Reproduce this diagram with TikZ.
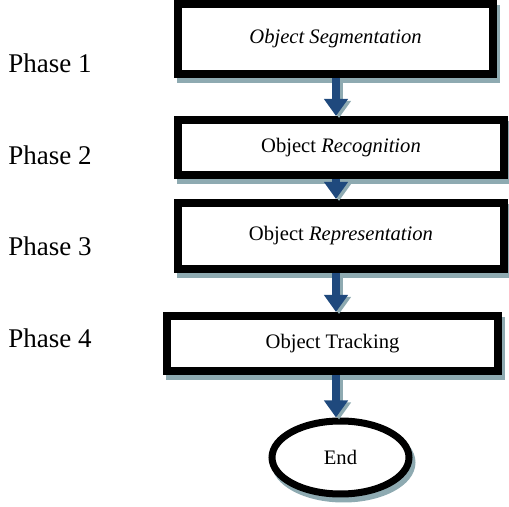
\documentclass[tikz,border=0pt]{standalone}
\usepackage{fontspec}
\setmainfont{Liberation Serif}
\usetikzlibrary{arrows.meta, shapes, calc, positioning, shadows}
\definecolor{flowblue}{RGB}{31,73,125}
\definecolor{shadowteal}{RGB}{142,170,177}
\tikzset {
    stage/.style args = {#1x#2}{
        draw,
        shape = rectangle,
        line width = 4pt,
        fill = white,
        minimum width = #1,
        minimum height = #2,
        font = \fontsize{10.3}{12}\selectfont, % Box text size
        drop shadow = {shadow xshift=1.5pt, shadow yshift=-2.5pt,
            opacity=1, fill=shadowteal, draw=shadowteal}
    },
    terminal/.style = {
        draw,
        shape = ellipse,
        line width = 3.5pt,
        fill = white,
        minimum width = 68.5pt,
        minimum height = 36.5pt,
        font = \fontsize{10.3}{12}\selectfont,
        drop shadow = {shadow xshift=1.5pt, shadow yshift=-2.5pt,
            opacity=1, fill=shadowteal, draw=shadowteal}
    },
    phase/.style = {
        anchor = base west,
        inner sep = 0pt,
        font = \fontsize{13.5}{16}\selectfont
    },
    flow/.style = {
        draw = flowblue,
        line width = 4pt,
        -{Triangle[width=11.5pt, length=8.5pt]}
    },
    flow shadow/.style = {
        flow,
        draw = shadowteal,
        transform canvas = {xshift=1.5pt, yshift=-1pt}
    }
}
\begin{document}
\begin{tikzpicture}[x=0.5pt, y=-0.5pt]
        \useasboundingbox (0, 0) rectangle (509, 507);

        % Phase labels on the left
        \node [phase] at (8, 73)    (phase1) {Phase 1};
        \node [phase] at (8, 165)   (phase2) {Phase 2};
        \node [phase] at (8, 256)   (phase3) {Phase 3};
        \node [phase] at (8, 348)   (phase4) {Phase 4};

        % Column of stages : segmentation, recognition, representation, tracking, end
        \node [stage={157.5pt}x{35pt}]   at (335.5, 39)    (segment)   {\textit{Object Segmentation}};
        \node [stage={163pt}x{27.5pt}]   at (341, 147.5)   (recognize) {Object \textit{Recognition}};
        \node [stage={163pt}x{33pt}]     at (341, 236)     (represent) {Object \textit{Representation}};
        \node [stage={165.5pt}x{27.5pt}] at (332.5, 343.5) (track)     {Object Tracking};
        \node [terminal]                 at (340.5, 457.5) (end)       {End};

        % Axis the arrows run along
        \coordinate (axis) at (336, 0);

        \foreach \from/\to in {segment/recognize, recognize/represent, represent/track, track/end} {
            \draw [flow shadow] (\from.south -| axis) -- (\to.north -| axis);
            \draw [flow]        (\from.south -| axis) -- (\to.north -| axis);
        }
    \end{tikzpicture}
\end{document}
